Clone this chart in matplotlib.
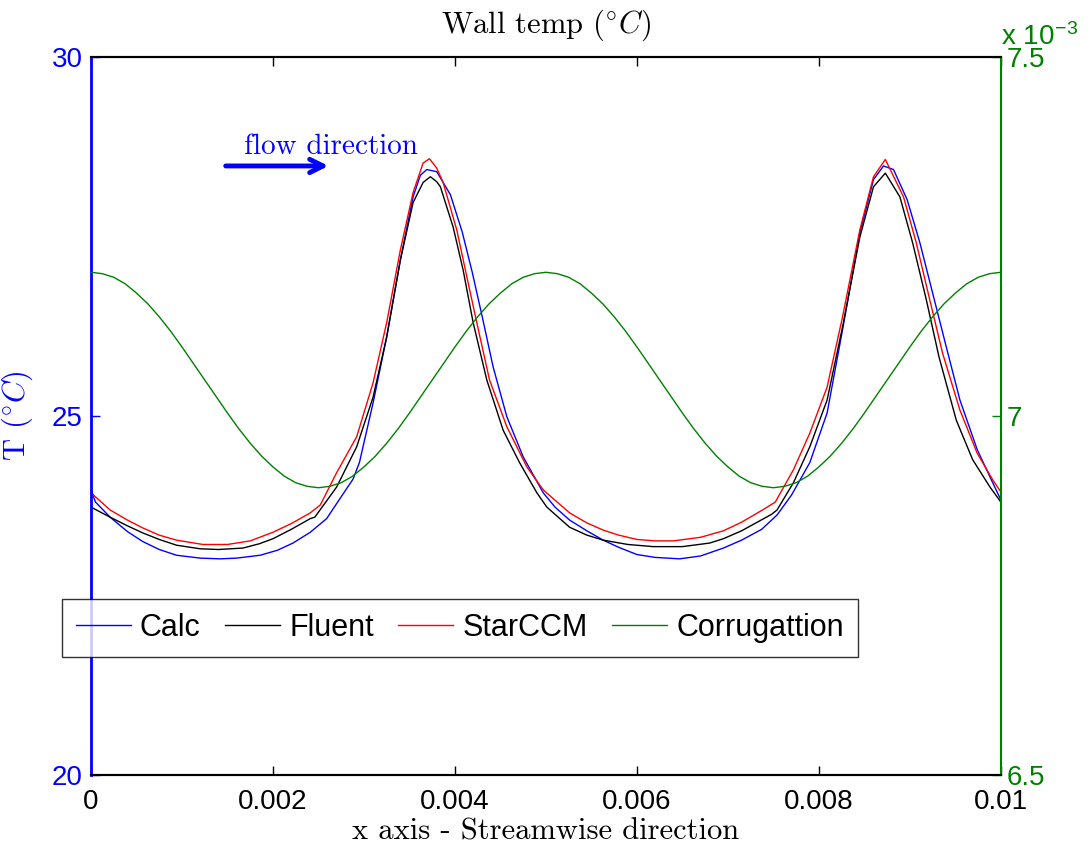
import numpy as np
import matplotlib
matplotlib.use("Agg")
import matplotlib.pyplot as plt

plt.rcParams["mathtext.fontset"] = "cm"
plt.rcParams["font.family"] = ["Liberation Sans", "DejaVu Sans"]
plt.rcParams["axes.unicode_minus"] = False

# wall temperature (x in m, T in deg C)
calc_x = [0.0, 0.00005, 0.00021, 0.0004, 0.00057, 0.00075, 0.00094, 0.0012, 0.00142,
          0.0016, 0.00186, 0.00205, 0.00222, 0.00241, 0.00259, 0.0027, 0.00288, 0.00295,
          0.0031, 0.00325, 0.0034, 0.00354, 0.00362, 0.00369, 0.0038, 0.00395, 0.00408,
          0.00419, 0.0043, 0.00442, 0.00457, 0.00475, 0.00497, 0.0051, 0.00526, 0.00545,
          0.00563, 0.0058, 0.006, 0.0062, 0.00647, 0.0067, 0.00695, 0.00715, 0.00737,
          0.00754, 0.0077, 0.0079, 0.00809, 0.00826, 0.00845, 0.0086, 0.00871, 0.00882,
          0.00897, 0.00911, 0.00925, 0.0094, 0.00955, 0.00974, 0.00991, 0.01]
calc_t = [23.97, 23.80, 23.59, 23.39, 23.25, 23.14, 23.06, 23.02, 23.01,
          23.02, 23.06, 23.13, 23.23, 23.38, 23.57, 23.78, 24.12, 24.35,
          25.18, 26.10, 27.17, 28.05, 28.35, 28.43, 28.40, 28.08, 27.56,
          27.00, 26.38, 25.68, 24.99, 24.43, 23.93, 23.73, 23.55, 23.40,
          23.27, 23.17, 23.07, 23.03, 23.01, 23.05, 23.16, 23.27, 23.42,
          23.62, 23.90, 24.35, 25.04, 26.20, 27.55, 28.29, 28.48, 28.43,
          28.01, 27.41, 26.71, 25.96, 25.22, 24.53, 24.07, 23.83]

fluent_x = [0.0, 0.00021, 0.0004, 0.00057, 0.00075, 0.00094, 0.0012, 0.0014, 0.00167,
            0.00185, 0.002, 0.0022, 0.00241, 0.00246, 0.0027, 0.00292, 0.0031, 0.00325,
            0.0034, 0.00354, 0.00365, 0.00373, 0.0038, 0.00384, 0.00398, 0.00409, 0.0042,
            0.00435, 0.00453, 0.00471, 0.0049, 0.00501, 0.00526, 0.00545, 0.00563, 0.0059,
            0.00618, 0.0065, 0.0068, 0.00695, 0.00715, 0.00738, 0.00748, 0.00754, 0.00772,
            0.0079, 0.00809, 0.00826, 0.00845, 0.0086, 0.00873, 0.00889, 0.00903, 0.00918,
            0.00932, 0.00951, 0.00969, 0.00988, 0.01]
fluent_t = [23.73, 23.59, 23.47, 23.37, 23.28, 23.20, 23.15, 23.14, 23.16,
            23.22, 23.29, 23.42, 23.57, 23.59, 24.01, 24.57, 25.26, 26.10,
            27.17, 27.97, 28.25, 28.33, 28.26, 28.19, 27.63, 27.03, 26.30,
            25.50, 24.80, 24.35, 23.93, 23.73, 23.45, 23.34, 23.27, 23.21,
            23.18, 23.18, 23.23, 23.29, 23.40, 23.56, 23.63, 23.69, 24.07,
            24.57, 25.22, 26.24, 27.49, 28.19, 28.38, 28.05, 27.41, 26.62,
            25.82, 24.94, 24.39, 24.01, 23.80]

starccm_x = [0.0, 0.00021, 0.0004, 0.00057, 0.00075, 0.00094, 0.00123, 0.0015, 0.00175,
             0.002, 0.0022, 0.00241, 0.00252, 0.0027, 0.00292, 0.0031, 0.00325, 0.0034,
             0.00354, 0.00365, 0.00372, 0.0038, 0.00387, 0.00402, 0.00413, 0.00424, 0.00438,
             0.00457, 0.00479, 0.00497, 0.00526, 0.00545, 0.00563, 0.0058, 0.006, 0.0062,
             0.0064, 0.0067, 0.00695, 0.00715, 0.00738, 0.00752, 0.00772, 0.0079, 0.00809,
             0.00826, 0.00845, 0.0086, 0.00873, 0.00893, 0.00907, 0.00921, 0.00936, 0.00955,
             0.00974, 0.00991, 0.01]
starccm_t = [23.93, 23.69, 23.55, 23.44, 23.34, 23.27, 23.21, 23.21, 23.26,
             23.38, 23.50, 23.65, 23.76, 24.21, 24.71, 25.46, 26.30, 27.31,
             28.11, 28.52, 28.58, 28.45, 28.25, 27.59, 26.94, 26.30, 25.50,
             24.85, 24.29, 23.97, 23.65, 23.51, 23.41, 23.34, 23.28, 23.26,
             23.26, 23.31, 23.40, 23.52, 23.69, 23.80, 24.25, 24.76, 25.40,
             26.38, 27.59, 28.33, 28.57, 28.05, 27.41, 26.66, 25.87, 25.08,
             24.48, 24.11, 23.94]

# corrugation height (x 1e-3), sampled every 0.000125 m
corr_x = np.linspace(0, 0.01, 81)
corr = [7.200, 7.198, 7.193, 7.184, 7.171, 7.156, 7.138, 7.118, 7.096, 7.073,
        7.050, 7.027, 7.004, 6.982, 6.962, 6.944, 6.929, 6.916, 6.907, 6.902,
        6.900, 6.902, 6.907, 6.916, 6.929, 6.944, 6.962, 6.982, 7.004, 7.027,
        7.050, 7.073, 7.096, 7.118, 7.138, 7.156, 7.171, 7.184, 7.193, 7.198,
        7.200, 7.198, 7.193, 7.184, 7.171, 7.156, 7.138, 7.118, 7.096, 7.073,
        7.050, 7.027, 7.004, 6.982, 6.962, 6.944, 6.929, 6.916, 6.907, 6.902,
        6.900, 6.902, 6.907, 6.916, 6.929, 6.944, 6.962, 6.982, 7.004, 7.027,
        7.050, 7.073, 7.096, 7.118, 7.138, 7.156, 7.171, 7.184, 7.193, 7.198,
        7.200]

xticks = [0, 0.002, 0.004, 0.006, 0.008, 0.01]
xticklabels = ["0", "0.002", "0.004", "0.006", "0.008", "0.01"]
lticks = [20, 25, 30]
rticks = [6.5, 7.0, 7.5]
rticklabels = ["6.5", "7", "7.5"]

BLUE = "#0000ff"
GREEN = "#008000"
FS = 20

fig = plt.figure(figsize=(10.91, 8.5), dpi=100)
ax = fig.add_axes([0.0834, 0.0882, 0.834, 0.845])
ax2 = ax.twinx()

l1, = ax.plot(calc_x, calc_t, color=BLUE, lw=1.0, label="Calc")
l2, = ax.plot(fluent_x, fluent_t, color="black", lw=1.0, label="Fluent")
l3, = ax.plot(starccm_x, starccm_t, color="red", lw=1.0, label="StarCCM")
l4, = ax2.plot(corr_x, corr, color=GREEN, lw=1.0, label="Corrugattion")

ax.set_xlim(0, 0.01)
ax.set_ylim(20, 30)
ax2.set_ylim(6.5, 7.5)

ax.set_xticks(xticks, xticklabels)
ax.set_yticks(lticks, [str(t) for t in lticks])
ax2.set_yticks(rticks, rticklabels)

ax.tick_params(axis="x", direction="in", length=6.5, width=1, top=True,
               labelsize=FS, pad=10, colors="black")
ax.tick_params(axis="y", direction="in", length=6.5, width=1, labelsize=FS,
               colors=BLUE, pad=6)
ax2.tick_params(axis="y", direction="in", length=6.5, width=1, labelsize=FS,
                colors=GREEN, pad=4)

for a in (ax, ax2):
    a.spines["top"].set_linewidth(1.5)
    a.spines["bottom"].set_linewidth(1.5)
ax.spines["left"].set_color(BLUE)
ax.spines["left"].set_linewidth(2)
ax2.spines["left"].set_visible(False)
ax2.spines["right"].set_color(GREEN)
ax2.spines["right"].set_linewidth(1.5)
ax.spines["right"].set_visible(False)

ax2.text(1.0, 1.008, r"x 10$^{\mathregular{-3}}$", transform=ax2.transAxes,
         ha="left", va="bottom", color=GREEN, fontsize=FS)

ax.set_title(r"Wall temp ($^{\circ}C$)", fontfamily="cmr10", fontsize=22, pad=17)
ax.set_xlabel("x axis - Streamwise direction", fontfamily="cmr10", fontsize=22,
              labelpad=2)
ax.set_ylabel(r"T ($^{\circ}C$)", fontfamily="cmr10", fontsize=22, color=BLUE,
              labelpad=12)

# flow direction arrow
ax.annotate("", xy=(0.00264, 28.48), xytext=(0.00145, 28.48),
            arrowprops=dict(arrowstyle="->", color=BLUE, lw=3.5,
                            mutation_scale=24))
ax.text(0.00264, 28.74, "flow direction", fontfamily="cmr10", fontsize=21,
        color=BLUE, ha="center", va="center")

leg = fig.legend(handles=[l1, l2, l3, l4], ncol=4, loc="upper left",
                 bbox_to_anchor=(0.0568, 1 - 599 / 850),
                 fontsize=22, frameon=True, fancybox=False,
                 handlelength=1.8, handletextpad=0.3, columnspacing=0.8,
                 borderaxespad=0, borderpad=0.45)
leg.get_frame().set_edgecolor("black")
leg.get_frame().set_linewidth(1.0)

fig.savefig("out.png", dpi=100)
